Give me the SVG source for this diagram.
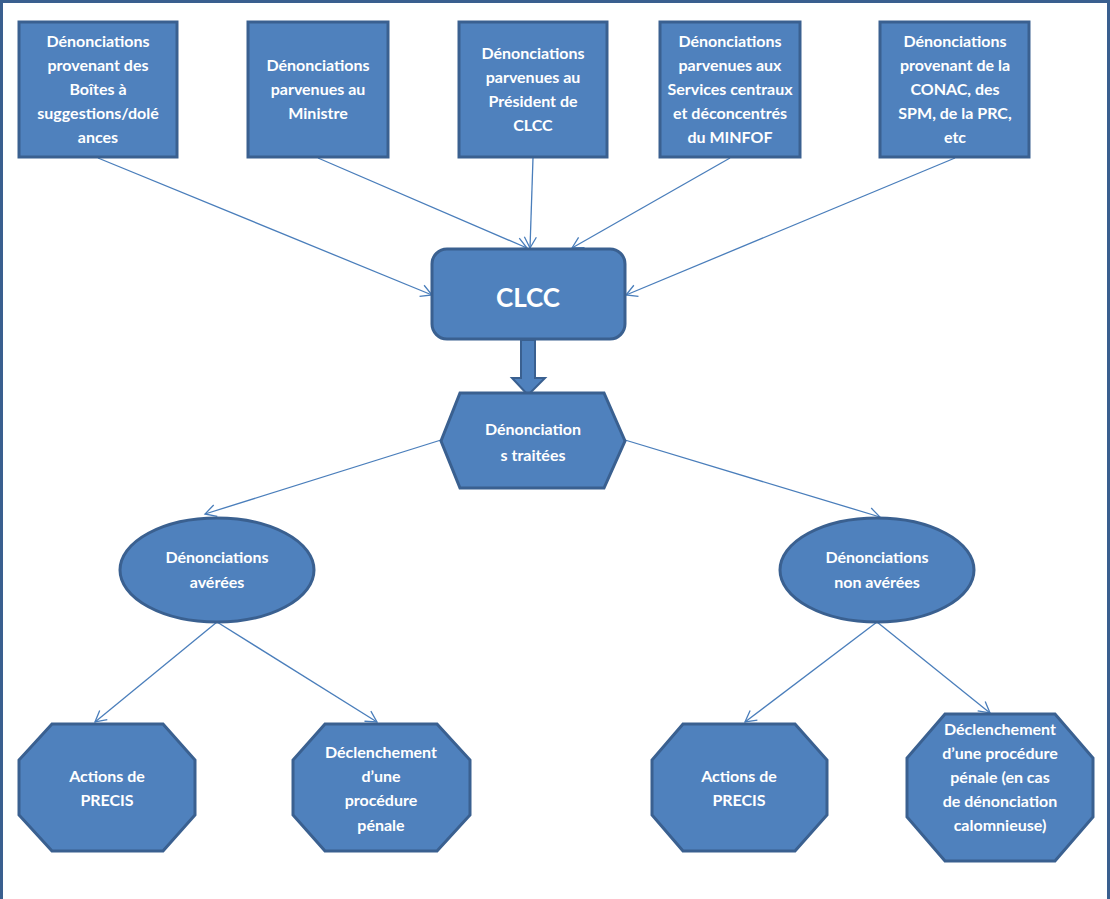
<svg xmlns="http://www.w3.org/2000/svg" width="1110" height="899" viewBox="0 0 1110 899">
<style>
.n{fill:#4f81bd;stroke:#3a6090;stroke-width:3}
.t{font-family:Lato,"Liberation Sans",sans-serif;font-weight:bold;font-size:16px;fill:#ffffff;text-anchor:middle}
.c{stroke:#4a7ebb;stroke-width:1.3;fill:none;marker-end:url(#ah)}
.f{stroke:#3a5f8f;stroke-width:3;fill:none}
</style>
<defs>
<marker id="ah" markerUnits="userSpaceOnUse" markerWidth="16" markerHeight="16" viewBox="-14 -8 16 16" refX="0" refY="0" orient="auto">
<path d="M-11,-6 L0,0 L-11,6" fill="none" stroke="#4a7ebb" stroke-width="1.3"/>
</marker>
</defs>
<rect width="1110" height="899" fill="#ffffff"/>
<g id="frame">
<path class="f" d="M1.5,899 V1.5 H1108.5 V899"/>
</g>
<g id="connectors">
<line class="c" x1="98" y1="158" x2="432" y2="295"/>
<line class="c" x1="318" y1="158" x2="527" y2="248"/>
<line class="c" x1="533" y1="158" x2="530" y2="248"/>
<line class="c" x1="730" y1="158" x2="572" y2="248"/>
<line class="c" x1="955" y1="158" x2="626" y2="295"/>
<line class="c" x1="441" y1="440" x2="205" y2="514"/>
<line class="c" x1="625" y1="440" x2="880" y2="517"/>
<line class="c" x1="217" y1="622" x2="95" y2="722"/>
<line class="c" x1="217" y1="622" x2="377" y2="722"/>
<line class="c" x1="877" y1="622" x2="745" y2="722"/>
<line class="c" x1="877" y1="622" x2="990" y2="713"/>
<path d="M521,340 V378 H512 L528,395 L545,378 H535 V340 Z" fill="#4f81bd" stroke="#3a6090" stroke-width="2"/>
</g>
<g id="box1">
<rect class="n" x="19" y="22" width="158" height="135"/>
<text class="t" x="98" y="47">Dénonciations</text>
<text class="t" x="98" y="71">provenant des</text>
<text class="t" x="98" y="95">Boîtes à</text>
<text class="t" x="98" y="119">suggestions/dolé</text>
<text class="t" x="98" y="143">ances</text>
</g>
<g id="box2">
<rect class="n" x="248" y="22" width="140" height="135"/>
<text class="t" x="318" y="71">Dénonciations</text>
<text class="t" x="318" y="95">parvenues au</text>
<text class="t" x="318" y="119">Ministre</text>
</g>
<g id="box3">
<rect class="n" x="459" y="22" width="148" height="135"/>
<text class="t" x="533" y="59">Dénonciations</text>
<text class="t" x="533" y="83">parvenues au</text>
<text class="t" x="533" y="107">Président de</text>
<text class="t" x="533" y="131">CLCC</text>
</g>
<g id="box4">
<rect class="n" x="660" y="22" width="140" height="135"/>
<text class="t" x="730" y="47">Dénonciations</text>
<text class="t" x="730" y="71">parvenues aux</text>
<text class="t" x="730" y="95">Services centraux</text>
<text class="t" x="730" y="119">et déconcentrés</text>
<text class="t" x="730" y="143">du MINFOF</text>
</g>
<g id="box5">
<rect class="n" x="880" y="22" width="149" height="135"/>
<text class="t" x="955" y="47">Dénonciations</text>
<text class="t" x="955" y="71">provenant de la</text>
<text class="t" x="955" y="95">CONAC, des</text>
<text class="t" x="955" y="119">SPM, de la PRC,</text>
<text class="t" x="955" y="143">etc</text>
</g>
<g id="clcc">
<rect class="n" x="432" y="249" width="193" height="90" rx="15"/>
<text class="t" x="528" y="307" style="font-size:26px">CLCC</text>
</g>
<g id="traitees">
<polygon class="n" points="460,393 604,393 625,441 604,488 460,488 441,441"/>
<text class="t" x="533" y="435">Dénonciation</text>
<text class="t" x="533" y="461">s traitées</text>
</g>
<g id="averees">
<ellipse class="n" cx="217" cy="570" rx="97" ry="52"/>
<text class="t" x="217" y="563">Dénonciations</text>
<text class="t" x="217" y="588">avérées</text>
</g>
<g id="nonaverees">
<ellipse class="n" cx="877" cy="570" rx="97" ry="52"/>
<text class="t" x="877" y="563">Dénonciations</text>
<text class="t" x="877" y="588">non avérées</text>
</g>
<g id="actions1">
<polygon class="n" points="52,724 163,724 195,760 195,815 163,851 52,851 19,815 19,760"/>
<text class="t" x="107" y="782">Actions de</text>
<text class="t" x="107" y="806">PRECIS</text>
</g>
<g id="penale1">
<polygon class="n" points="325,724 437,724 470,760 470,815 437,851 325,851 293,815 293,760"/>
<text class="t" x="381" y="758">Déclenchement</text>
<text class="t" x="381" y="782">d’une</text>
<text class="t" x="381" y="806">procédure</text>
<text class="t" x="381" y="831">pénale</text>
</g>
<g id="actions2">
<polygon class="n" points="683,724 795,724 827,760 827,815 795,851 683,851 652,815 652,760"/>
<text class="t" x="739" y="782">Actions de</text>
<text class="t" x="739" y="806">PRECIS</text>
</g>
<g id="penale2">
<polygon class="n" points="945,714 1055,714 1093,758 1093,817 1055,861 945,861 907,817 907,758"/>
<text class="t" x="1000" y="735">Déclenchement</text>
<text class="t" x="1000" y="759">d’une procédure</text>
<text class="t" x="1000" y="783">pénale (en cas</text>
<text class="t" x="1000" y="807">de dénonciation</text>
<text class="t" x="1000" y="831">calomnieuse)</text>
</g>
</svg>
